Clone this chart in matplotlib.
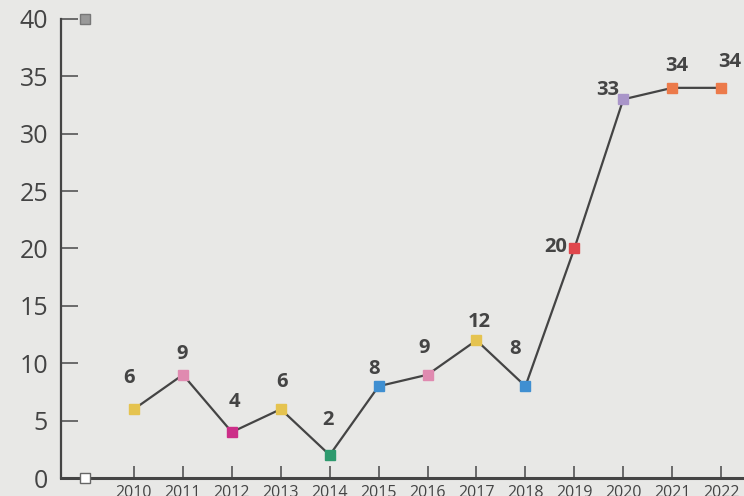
import matplotlib
matplotlib.use("Agg")
import matplotlib.pyplot as plt

years = [2010, 2011, 2012, 2013, 2014, 2015, 2016, 2017, 2018, 2019, 2020, 2021, 2022]
values = [6, 9, 4, 6, 2, 8, 9, 12, 8, 20, 33, 34, 34]
marker_colors = ["#e5c34f", "#e08ab0", "#cc2e88", "#e5c34f", "#2e9a6e", "#3f8fd1",
                 "#e08ab0", "#e5c34f", "#3f8fd1", "#e0474c", "#a995c9", "#ec7a4a", "#ec7a4a"]
y_ticks = [0, 5, 10, 15, 20, 25, 30, 35, 40]
# label offsets in pixels (dx, dy) relative to each marker
label_offsets = [(-5, 31), (-1, 21), (3, 30), (1, 27), (-2, 35), (-5, 17), (-3, 27),
                 (3, 18), (-10, 37), (-19, 1), (-16, 9), (5, 22), (9, 26)]

BG = "#e8e8e6"
DARK = "#444444"
FONT = ["Open Sans", "DejaVu Sans"]

fig = plt.figure(figsize=(7.44, 4.96), dpi=100, facecolor=BG)
ax = fig.add_axes([60.6 / 744, 18 / 496, 685 / 744, 459 / 496])
ax.set_facecolor(BG)

ax.plot(years, values, color=DARK, lw=1.6, zorder=2, solid_capstyle="round")
for x, y, c in zip(years, values, marker_colors):
    ax.plot([x], [y], marker="s", ms=7, color=c, mec=c, ls="none", zorder=3)

# reference markers at left
ax.plot([2009], [40], marker="s", ms=7, color="#999999", mec="#777777", mew=1, zorder=3, clip_on=False)
ax.plot([2009], [0], marker="s", ms=7, color="#ffffff", mec="#666666", mew=1, zorder=4, clip_on=False)

for x, y, (dx, dy) in zip(years, values, label_offsets):
    ax.annotate(str(y), (x, y), xytext=(dx, dy), textcoords="offset pixels",
                ha="center", va="center", fontsize=14.5, fontweight="bold",
                color=DARK, family=FONT, zorder=5, annotation_clip=False)

ax.set_xlim(2008.5, 2022.5)
ax.set_ylim(0, 40)
ax.set_xticks(years)
ax.set_xticklabels([str(y) for y in years], family=FONT, fontsize=11.5, color=DARK)
ax.set_yticks(y_ticks)
ax.set_yticklabels([str(t) for t in y_ticks], family=FONT, fontsize=18, color=DARK)

ax.tick_params(axis="y", direction="in", length=12, width=1.2, color="#555555", pad=9)
ax.tick_params(axis="x", direction="in", length=8.5, width=1.2, color="#555555", pad=5)

for s in ["top", "right"]:
    ax.spines[s].set_visible(False)
ax.spines["left"].set_color(DARK)
ax.spines["left"].set_linewidth(1.6)
ax.spines["bottom"].set_color(DARK)
ax.spines["bottom"].set_linewidth(2.2)

fig.savefig("out.png", dpi=100, facecolor=BG)
